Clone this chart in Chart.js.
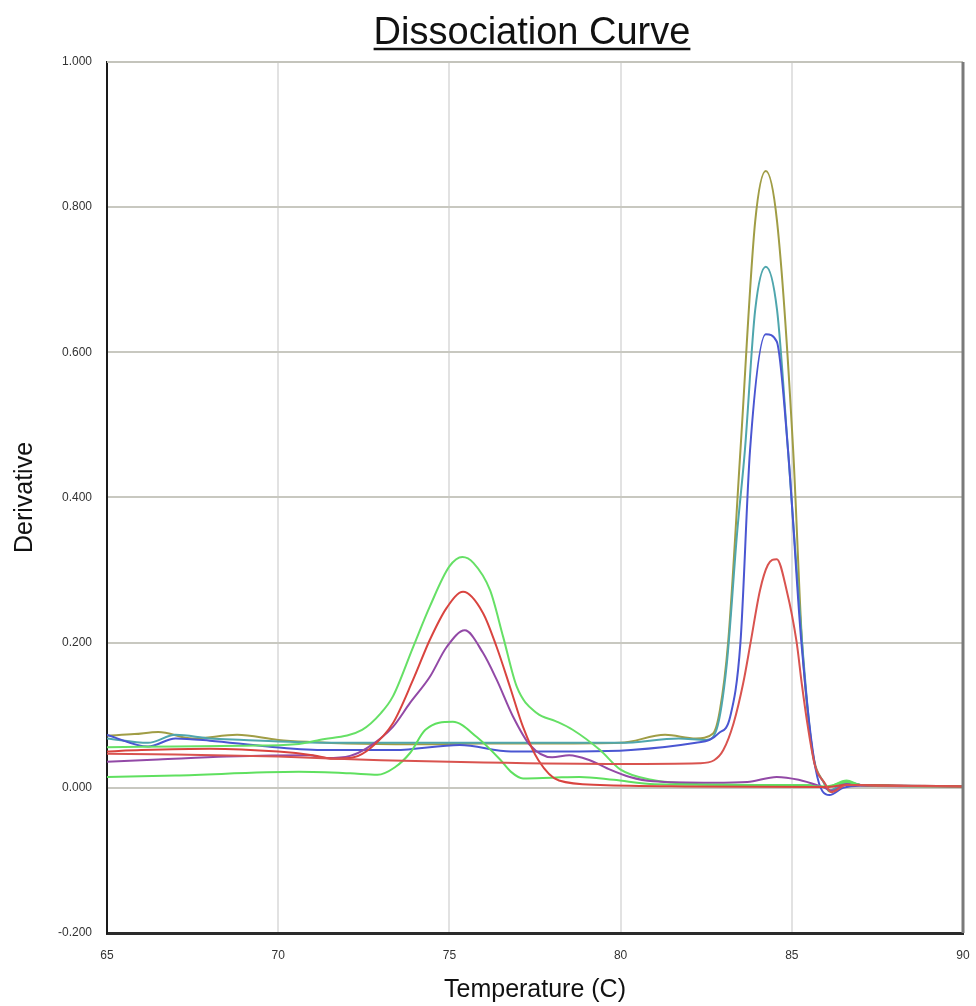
<!DOCTYPE html>
<html>
<head>
<meta charset="utf-8">
<script src="https://cdn.jsdelivr.net/npm/chart.js@4/dist/chart.umd.min.js"></script>
<style>
  html, body { margin: 0; padding: 0; background: #fff; overflow: hidden; }
  #wrap { width: 976px; height: 1006px; position: relative; }
  canvas { display: block; }
</style>
</head>
<body>
<div id="wrap"><canvas id="chart"></canvas></div>
<script>
// values (temperature in C, derivative)
const oliveTemp  = [65, 65.8, 66.5, 67.5, 68.8, 70, 71, 72, 74, 76, 78, 80, 81.3, 82.2, 82.7, 82.9, 83.14, 83.5, 83.93, 84.24, 84.57, 85.04, 85.3, 85.6, 85.95, 86.1, 86.6, 87, 88, 90];
const oliveDeriv = [0.072, 0.074, 0.077, 0.068, 0.073, 0.066, 0.063, 0.061, 0.060, 0.061, 0.061, 0.062, 0.073, 0.068, 0.075, 0.107, 0.2, 0.465, 0.78, 0.85, 0.78, 0.465, 0.2, 0.052, 0.006, -0.005, 0.008, 0.004, 0.003, 0.002];

const tealTemp  = [65, 66.2, 67, 68, 69, 70, 72, 74, 76, 78, 80, 81.7, 82.5, 82.8, 83.1, 83.4, 83.63, 83.93, 84.24, 84.57, 84.89, 85.3, 85.6, 85.95, 86.1, 86.6, 87, 88, 90];
const tealDeriv = [0.068, 0.062, 0.073, 0.068, 0.066, 0.064, 0.062, 0.062, 0.062, 0.062, 0.062, 0.068, 0.066, 0.08, 0.17, 0.35, 0.465, 0.658, 0.718, 0.658, 0.465, 0.2, 0.05, 0.006, -0.004, 0.009, 0.004, 0.003, 0.002];

const blueTemp  = [65, 66.2, 67, 68, 69.7, 71.4, 73.4, 75.3, 76.8, 78.8, 80.3, 82.2, 82.6, 82.86, 83.2, 83.5, 83.78, 84.24, 84.56, 84.89, 85.28, 85.7, 86.1, 86.5, 87, 90];
const blueDeriv = [0.073, 0.057, 0.068, 0.065, 0.057, 0.052, 0.052, 0.059, 0.05, 0.05, 0.052, 0.062, 0.066, 0.075, 0.098, 0.2, 0.465, 0.625, 0.615, 0.465, 0.2, 0.025, -0.01, 0.0, 0.003, 0.002];

const redHighTemp  = [65, 67, 70, 73, 76, 80, 82.3, 82.73, 83.0, 83.3, 83.58, 83.8, 84.07, 84.3, 84.56, 84.85, 85.14, 85.29, 85.47, 85.68, 85.97, 86.15, 86.6, 87.5, 90];
const redHighDeriv = [0.047, 0.046, 0.043, 0.038, 0.035, 0.033, 0.034, 0.038, 0.052, 0.089, 0.144, 0.201, 0.272, 0.307, 0.315, 0.272, 0.201, 0.144, 0.084, 0.03, 0.006, -0.006, 0.004, 0.003, 0.002];

const greenBigTemp  = [65, 67, 69, 70.5, 71.2, 72.45, 73, 73.35, 73.94, 74.43, 75.0, 75.38, 75.7, 76.19, 76.57, 76.97, 77.55, 78.1, 78.6, 79.4, 80, 80.9, 82.3, 84, 85.5, 86, 86.6, 87, 90];
const greenBigDeriv = [0.056, 0.057, 0.058, 0.060, 0.066, 0.08, 0.103, 0.126, 0.194, 0.25, 0.305, 0.318, 0.31, 0.272, 0.208, 0.139, 0.103, 0.092, 0.08, 0.052, 0.025, 0.011, 0.005, 0.004, 0.004, 0.001, 0.01, 0.004, 0.002];

const redLowTemp  = [65, 66, 68, 70, 71, 71.6, 72.2, 72.7, 73.35, 73.94, 74.43, 74.92, 75.4, 75.98, 76.38, 76.77, 77.15, 77.6, 78.2, 79.4, 82, 86, 86.6, 90];
const redLowDeriv = [0.05, 0.052, 0.054, 0.05, 0.045, 0.040, 0.042, 0.055, 0.089, 0.149, 0.204, 0.248, 0.27, 0.241, 0.194, 0.139, 0.084, 0.038, 0.01, 0.004, 0.002, 0.001, 0.004, 0.002];

const purpleTemp  = [65, 66.5, 68.5, 70.9, 71.4, 72.1, 72.6, 73.35, 73.85, 74.43, 74.92, 75.45, 75.98, 76.38, 76.86, 77.35, 78.0, 78.5, 79.1, 79.6, 80.27, 80.95, 82.7, 83.7, 84.56, 85.2, 85.9, 86.2, 86.6, 87.2, 90];
const purpleDeriv = [0.036, 0.039, 0.043, 0.045, 0.041, 0.044, 0.055, 0.084, 0.117, 0.153, 0.194, 0.217, 0.186, 0.149, 0.098, 0.059, 0.042, 0.045, 0.038, 0.027, 0.015, 0.009, 0.007, 0.008, 0.015, 0.011, 0.001, -0.004, 0.006, 0.003, 0.002];

const greenSmallTemp  = [65, 67, 70.6, 72.1, 72.9, 73.4, 73.85, 74.3, 75.1, 75.8, 76.5, 76.8, 77.15, 78, 78.8, 79.8, 81, 84, 86, 86.6, 87, 90];
const greenSmallDeriv = [0.015, 0.017, 0.022, 0.02, 0.018, 0.028, 0.048, 0.08, 0.091, 0.07, 0.038, 0.022, 0.013, 0.014, 0.015, 0.011, 0.005, 0.004, 0.002, 0.008, 0.004, 0.002];

const xTicks = [65, 70, 75, 80, 85, 90];
const yTicks = [-0.2, 0, 0.2, 0.4, 0.6, 0.8, 1.0];

function pts(t, d) {
  return t.map((x, i) => ({ x: x, y: d[i] }));
}

function curve(t, d, color) {
  return {
    data: pts(t, d),
    borderColor: color,
    borderWidth: 2,
    pointRadius: 0,
    fill: false,
    cubicInterpolationMode: 'monotone'
  };
}

// title with underline + top/right frame lines
const framePlugin = {
  id: 'frame',
  afterDraw(chart) {
    const { ctx, chartArea: a } = chart;
    ctx.save();
    ctx.strokeStyle = '#c4c4bc';
    ctx.lineWidth = 2;
    ctx.beginPath();
    ctx.moveTo(a.left, a.top);
    ctx.lineTo(a.right, a.top);
    ctx.stroke();
    ctx.strokeStyle = '#7a7a7a';
    ctx.lineWidth = 3;
    ctx.beginPath();
    ctx.moveTo(a.right, a.top);
    ctx.lineTo(a.right, a.bottom);
    ctx.stroke();

    const title = 'Dissociation Curve';
    ctx.font = '38px "Liberation Sans", Arial, sans-serif';
    ctx.fillStyle = '#111';
    ctx.textAlign = 'center';
    ctx.textBaseline = 'alphabetic';
    const cx = 532, by = 44;
    ctx.fillText(title, cx, by);
    const w = ctx.measureText(title).width;
    ctx.strokeStyle = '#111';
    ctx.lineWidth = 2.5;
    ctx.beginPath();
    ctx.moveTo(cx - w / 2, by + 5);
    ctx.lineTo(cx + w / 2, by + 5);
    ctx.stroke();
    ctx.restore();
  }
};

const ctx = document.getElementById('chart').getContext('2d');
new Chart(ctx, {
  type: 'line',
  data: {
    datasets: [
      curve(redHighTemp, redHighDeriv, '#d9534f'),
      curve(redLowTemp, redLowDeriv, '#d9443f'),
      curve(greenSmallTemp, greenSmallDeriv, '#5fe05f'),
      curve(purpleTemp, purpleDeriv, '#9249a6'),
      curve(greenBigTemp, greenBigDeriv, '#66e066'),
      curve(blueTemp, blueDeriv, '#4a56d2'),
      curve(tealTemp, tealDeriv, '#4fa6ad'),
      curve(oliveTemp, oliveDeriv, '#a09d45')
    ]
  },
  options: {
    responsive: true,
    maintainAspectRatio: false,
    animation: false,
    layout: { padding: { top: 62, right: 13, left: 0, bottom: 0 } },
    plugins: {
      legend: { display: false },
      tooltip: { enabled: false }
    },
    scales: {
      x: {
        type: 'linear',
        min: 65,
        max: 90,
        afterFit: s => { s.height = 73; s.paddingLeft = 0; s.paddingRight = 0; },
        afterBuildTicks: s => { s.ticks = xTicks.map(v => ({ value: v })); },
        ticks: {
          padding: 15,
          color: '#333',
          font: { family: '"Liberation Sans", Arial, sans-serif', size: 12 },
          callback: v => String(v)
        },
        grid: { color: '#e2e2e2', lineWidth: 2, drawTicks: false },
        border: { color: '#2a2a2a', width: 3 },
        title: {
          display: true,
          text: 'Temperature (C)',
          color: '#111',
          font: { family: '"Liberation Sans", Arial, sans-serif', size: 25 },
          padding: { top: 0, bottom: 1 }
        }
      },
      y: {
        min: -0.2,
        max: 1.0,
        afterFit: s => { s.width = 107; },
        afterBuildTicks: s => { s.ticks = yTicks.map(v => ({ value: v })); },
        ticks: {
          padding: 15,
          color: '#333',
          font: { family: '"Liberation Sans", Arial, sans-serif', size: 12 },
          callback: v => v.toFixed(3)
        },
        grid: { color: '#c8c8c0', lineWidth: 2, drawTicks: false },
        border: { color: '#1a1a1a', width: 2 },
        title: {
          display: true,
          text: 'Derivative',
          color: '#111',
          font: { family: '"Liberation Sans", Arial, sans-serif', size: 25 },
          padding: { top: 10, bottom: 0 }
        }
      }
    }
  },
  plugins: [framePlugin]
});
</script>
</body>
</html>
